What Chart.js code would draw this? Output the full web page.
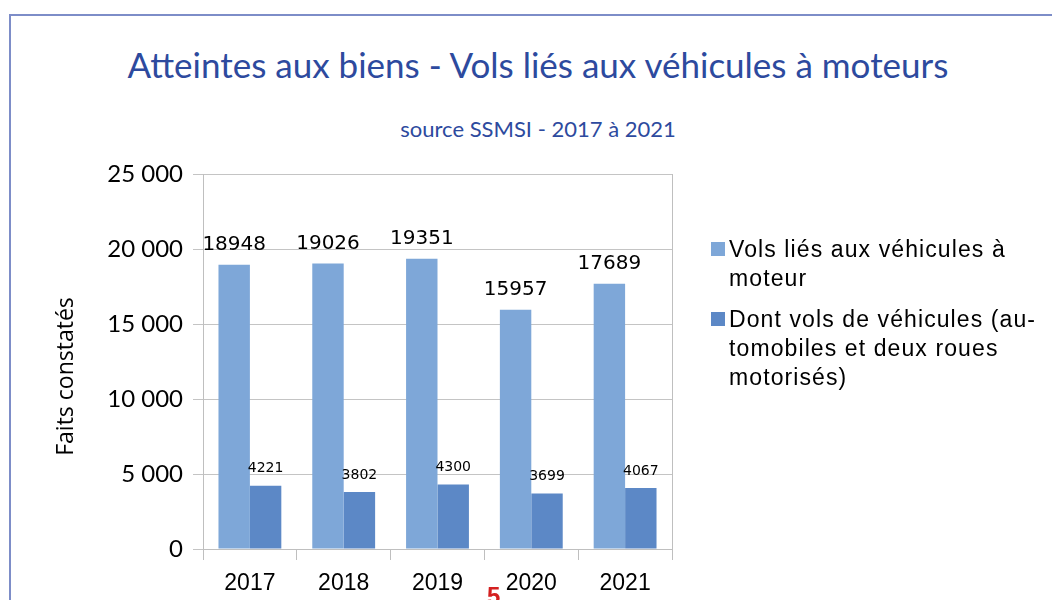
<!DOCTYPE html>
<html lang="fr">
<head>
<meta charset="utf-8">
<script src="https://cdn.jsdelivr.net/npm/chart.js@4"></script>
<style>
  body { margin: 0; background: #fff; }
  #slide { position: relative; width: 1052px; height: 600px; overflow: hidden; background: #fff; }
  #frame { position: absolute; left: 9px; top: 14px; right: -10px; bottom: -10px;
           border-top: 2px solid #7d8dc8; border-left: 2px solid #7d8dc8; }
  #title { position: absolute; left: 0; width: 1076px; top: 43px; text-align: center;
           font: 35px Lato, sans-serif; color: #2d4a9e; white-space: nowrap; }
  #subtitle { position: absolute; left: 0; width: 1076px; top: 115px; text-align: center;
              font: 22px Lato, sans-serif; color: #2d4a9e; }
  #legend { position: absolute; left: 711px; top: 235px; width: 335px;
            font: 23px "Liberation Sans", Arial, sans-serif; color: #000; line-height: 29px;
            letter-spacing: 1.1px; }
  .item { position: relative; padding-left: 18px; margin-bottom: 12px; }
  .item i { position: absolute; left: 0; top: 7px; width: 14px; height: 14px; }
  #page { position: absolute; left: 487px; top: 582px; font: bold 24px "Liberation Sans", Arial, sans-serif; color: #d42020; }
  canvas { position: absolute; left: 0; top: 0; }
</style>
</head>
<body>
<div id="slide">
  <div id="frame"></div>
  <div id="title">Atteintes aux biens - Vols liés aux véhicules à moteurs</div>
  <div id="subtitle">source SSMSI - 2017 à 2021</div>
  <canvas id="chart" width="1052" height="600"></canvas>
  <div id="legend"></div>
  <div id="page">5</div>
</div>
<script>
// données
var annees = ['2017', '2018', '2019', '2020', '2021'];
var volsVehiculesMoteur = [18948, 19026, 19351, 15957, 17689];
var volsDeVehicules = [4221, 3802, 4300, 3699, 4067];
var nomsSeries = ['Vols liés aux véhicules à moteur', 'Dont vols de véhicules (au-tomobiles et deux roues motorisés)'];
var couleurs = ['#7ea7d8', '#5c88c6'];
var graduations = [0, 5000, 10000, 15000, 20000, 25000];

function espaceMilliers(v) {
    return String(v).replace(/\B(?=(\d{3})+(?!\d))/g, ' ');
}

// legende HTML (texte sur plusieurs lignes)
var legend = document.getElementById('legend');
nomsSeries.forEach(function (nom, i) {
    var d = document.createElement('div');
    d.className = 'item';
    d.innerHTML = '<i style="background:' + couleurs[i] + '"></i>' + nom;
    legend.appendChild(d);
});

var etiquettes = {
    id: 'etiquettes',
    afterDatasetsDraw: function (chart) {
        var ctx = chart.ctx;
        ctx.save();
        ctx.fillStyle = '#000';
        ctx.textAlign = 'center';
        ctx.textBaseline = 'middle';
        chart.data.datasets.forEach(function (ds, i) {
            var meta = chart.getDatasetMeta(i);
            ctx.font = i === 0 ? '20px "DejaVu Sans"' : '14px "DejaVu Sans"';
            var dy = i === 0 ? 20 : 17;
            meta.data.forEach(function (bar, j) {
                ctx.fillText(ds.data[j], bar.x, bar.y - dy);
            });
        });
        ctx.restore();
    },
    afterDraw: function (chart) {
        var ctx = chart.ctx, a = chart.chartArea;
        ctx.save();
        // bord droit de la zone de tracé
        ctx.strokeStyle = '#bfbfbf';
        ctx.lineWidth = 1;
        ctx.beginPath();
        ctx.moveTo(a.right + 0.5, a.top);
        ctx.lineTo(a.right + 0.5, a.bottom);
        ctx.stroke();
        // titre de l'axe vertical
        ctx.translate(66, (a.top + a.bottom) / 2 + 15);
        ctx.rotate(-Math.PI / 2);
        ctx.font = '23px "Open Sans"';
        ctx.fillStyle = '#000';
        ctx.textAlign = 'center';
        ctx.textBaseline = 'middle';
        ctx.fillText('Faits constatés', 0, 0);
        ctx.restore();
    }
};

var ctx = document.getElementById('chart');

var chart = new Chart(ctx, {
    type: 'bar',
    data: {
        labels: annees,
        datasets: [{
            label: nomsSeries[0],
            data: volsVehiculesMoteur,
            backgroundColor: couleurs[0],
            categoryPercentage: 0.67,
            barPercentage: 1.0
        }, {
            label: nomsSeries[1],
            data: volsDeVehicules,
            backgroundColor: couleurs[1],
            categoryPercentage: 0.67,
            barPercentage: 1.0
        }]
    },
    options: {
        responsive: false,
        animation: false,
        layout: {
            padding: { top: 174, left: 10, right: 380, bottom: 0 }
        },
        scales: {
            x: {
                grid: { drawOnChartArea: false, tickLength: 11, color: '#bfbfbf' },
                border: { color: '#bfbfbf' },
                ticks: {
                    color: '#000',
                    padding: 10,
                    font: { family: '"Liberation Sans", Arial', size: 23 }
                },
                afterFit: function (scale) { scale.height = 51; }
            },
            y: {
                min: graduations[0],
                max: graduations[graduations.length - 1],
                afterBuildTicks: function (scale) {
                    scale.ticks = graduations.map(function (v) { return { value: v }; });
                },
                grid: { tickLength: 10, color: '#c4c4c4' },
                border: { color: '#bfbfbf' },
                ticks: {
                    color: '#000',
                    padding: 10,
                    font: { family: 'Lato', size: 24 },
                    callback: function (v) { return espaceMilliers(v); }
                },
                afterFit: function (scale) { scale.width = 193; }
            }
        },
        plugins: {
            legend: { display: false },
            tooltip: { enabled: false }
        }
    },
    plugins: [etiquettes]
});
</script>
</body>
</html>
